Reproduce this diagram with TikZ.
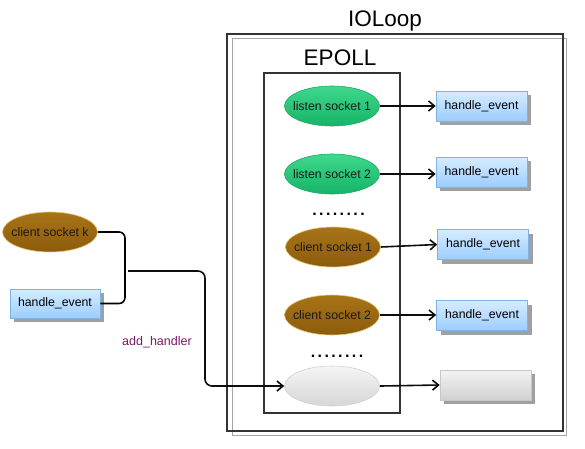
\documentclass[tikz,border=0pt]{standalone}
\usepackage{fontspec}
\setmainfont{Liberation Sans}
\usetikzlibrary{shapes.geometric,arrows.meta,shadows}
\definecolor{gtop}{HTML}{3FD88D}
\definecolor{gmid}{HTML}{33CF82}
\definecolor{gbot}{HTML}{16B468}
\definecolor{gline}{HTML}{1FA864}
\definecolor{btop}{HTML}{A87418}
\definecolor{bmid}{HTML}{C8902C}
\definecolor{bbot}{HTML}{8C5C0C}
\definecolor{bline}{HTML}{E6C878}
\definecolor{htop}{HTML}{D6ECFF}
\definecolor{hbot}{HTML}{9CCDFF}
\definecolor{hline}{HTML}{7FB2E5}
\definecolor{shad}{HTML}{A0A0A0}
\definecolor{ahcol}{HTML}{7A1A6A}
\newcommand\zw[1]{\makebox[0pt]{#1}}
\tikzset{
  sock/.style={ellipse, minimum width=95pt, minimum height=40pt, inner sep=0pt,
    font=\fontsize{12.3}{14}\selectfont, text=black!90},
  lsock/.style={sock, draw=gline, line width=0.6pt, top color=gtop, middle color=gmid, bottom color=gbot},
  csock/.style={sock, draw=bline, line width=0.6pt, top color=btop, middle color=bmid, bottom color=bbot},
  esock/.style={sock, draw=black!18, line width=0.6pt, top color=black!4, bottom color=black!16},
  hbox/.style={rectangle, minimum width=91pt, minimum height=30pt, inner sep=0pt,
    draw=hline, line width=0.6pt, top color=htop, bottom color=hbot,
    font=\fontsize{12.3}{14}\selectfont,
    drop shadow={shadow xshift=4pt, shadow yshift=-4pt, fill=shad, opacity=1}},
  ebox/.style={hbox, draw=black!22, top color=black!5, bottom color=black!18},
  arr/.style={line width=1.6pt, draw=black!95, -{Straight Barb[length=6pt,width=10pt]}},
  frame/.style={draw=black!80, line width=1.6pt, rectangle, inner sep=0pt},
  title/.style={font=\fontsize{22.5}{26}\selectfont},
  dotrow/.style={font=\fontsize{16}{18}\selectfont\bfseries}
}
\begin{document}
\begin{tikzpicture}[x=1pt,y=-1pt]
\useasboundingbox (0,0) rectangle (585,448);
% IOLoop frames
\node[draw=black!35, line width=0.8pt, rectangle, minimum width=334pt, minimum height=397pt] (ioshadow) at (399,236.5) {};
\node[frame, minimum width=336pt, minimum height=397pt] (ioloop) at (395,232.5) {};
\node[title] (iolabel) at (385,21) {IOLoop};
% EPOLL
\node[frame, minimum width=136pt, minimum height=340pt] (epoll) at (332,243) {};
\node[title] (eplabel) at (340,58) {EPOLL};
% sockets
\node[lsock] (ls1) at (332,106) {\zw{listen socket 1}};
\node[lsock] (ls2) at (332,174) {\zw{listen socket 2}};
\node[dotrow] (d1) at (338.5,214) {.\kern2.4pt.\kern2.4pt.\kern2.4pt.\kern2.4pt.\kern2.4pt.\kern2.4pt.\kern2.4pt.};
\node[csock] (cs1) at (333,247) {\zw{client socket 1}};
\node[csock] (cs2) at (332,315) {\zw{client socket 2}};
\node[dotrow] (d2) at (337,356) {.\kern2.4pt.\kern2.4pt.\kern2.4pt.\kern2.4pt.\kern2.4pt.\kern2.4pt.\kern2.4pt.};
\node[esock] (es) at (332,386) {};
% handlers
\node[hbox] (h1) at (481.5,106) {handle\_event};
\node[hbox] (h2) at (481.5,172) {handle\_event};
\node[hbox] (h3) at (483,244.5) {handle\_event};
\node[hbox] (h4) at (482,315.5) {handle\_event};
\node[ebox] (h5) at (485.5,385) {};
\draw[arr] (ls1.east) -- (h1.west);
\draw[arr] (ls2.east) -- (h2.west |- ls2.east);
\draw[arr] (cs1.east) -- (h3.west);
\draw[arr] (cs2.east) -- (h4.west |- cs2.east);
\draw[arr] (es.east) -- (h5.west);
% left side
\node[csock] (csk) at (50,232) {\zw{client socket k}};
\node[hbox, minimum width=90pt, minimum height=29pt] (hl) at (55,303.5) {handle\_event};
\coordinate (brk) at (125,271);
\draw[line width=1.6pt, rounded corners=6pt] (csk.east) -| (brk) |- (hl.east);
\coordinate (ah) at (128,271);
\coordinate (bend) at (205,386);
\draw[arr, rounded corners=7pt] (ah) -| (bend) -- (es.west);
\node[font=\fontsize{12.5}{14}\selectfont, text=ahcol] (ahl) at (157,342) {add\_handler};
\end{tikzpicture}
\end{document}
